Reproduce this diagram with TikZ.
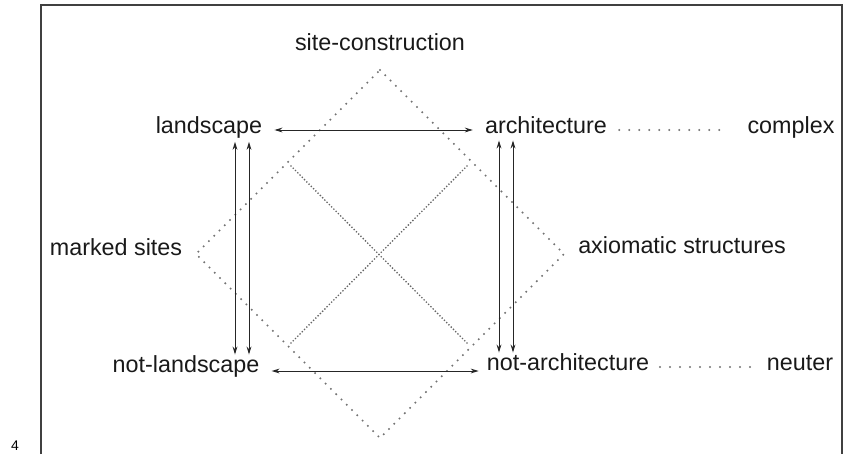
\documentclass[tikz,border=0pt]{standalone}
\usepackage{fontspec}
\setmainfont{Liberation Sans}
\usepackage{tikz}
\usetikzlibrary{arrows.meta,calc}

\tikzset{
  lbl/.style={inner sep=3pt, text height=0.72em, text depth=0.21em,
    font=\fontsize{17.5}{20}\selectfont, text=black!90},
  biarrow/.style={<->, line width=0.75pt, black!85},
  sparsedots/.style={black!55, line width=1.7pt, line cap=round, dash pattern=on 0pt off 5.6pt},
  densedots/.style={black!60, line width=1.4pt, line cap=round, dash pattern=on 0pt off 2.4pt},
  sidedots/.style={black!55, line width=1.6pt, line cap=round, dash pattern=on 0pt off 7.5pt}
}

\begin{document}
\begin{tikzpicture}[x=0.75pt, y=-0.75pt, >={Stealth[length=6pt,width=3.6pt]}]
\useasboundingbox (0,0) rectangle (846,454);

% Frame
\draw[black!75, line width=1.1pt] (41,454) -- (41,5) -- (842,5) -- (842,454);
\node[font=\fontsize{10.5}{12}\selectfont, inner sep=0pt] (pg) at (15,446) {4};

% Labels
\node[lbl] (site) at (380,47) {site-construction};
\node[lbl] (land) at (209,130) {landscape};
\node[lbl] (arch) at (546,130) {architecture};
\node[lbl] (comp) at (791,130) {complex};
\node[lbl] (marked) at (116,252) {marked sites};
\node[lbl] (axiom) at (682,250) {axiomatic structures};
\node[lbl] (notland) at (186,369) {not-landscape};
\node[lbl] (notarch) at (568,367) {not-architecture};
\node[lbl] (neut) at (800,367) {neuter};

% Diamond
\coordinate (dtop) at (380,70);
\coordinate (dright) at (564,254);
\coordinate (dbot) at (380,438);
\coordinate (dleft) at (196,254);
\draw[sparsedots] (dtop) -- (dright) -- (dbot) -- (dleft) -- cycle;

% Cross
\draw[densedots] (291,166) -- (467,343);
\draw[densedots] (467,166) -- (291,343);

% Arrows
\draw[biarrow, shorten <=6pt, shorten >=6pt] (land) -- (arch);
\draw[biarrow, shorten <=6pt, shorten >=3pt] (notland.east |- 0,371) -- (notarch.west |- 0,371);
\foreach \x in {235,249}
  \draw[biarrow, shorten <=1pt, shorten >=3pt] (land.south -| \x,0) -- (notland.north -| \x,0);
\foreach \x in {499,513}
  \draw[biarrow, shorten <=0pt, shorten >=3pt] (arch.south -| \x,0) -- (notarch.north -| \x,0);

% Side links
\draw[sidedots, shorten <=6pt, shorten >=12pt] (arch) -- (comp);
\draw[sidedots, shorten <=5pt, shorten >=8pt] (notarch) -- (neut);
\end{tikzpicture}
\end{document}
